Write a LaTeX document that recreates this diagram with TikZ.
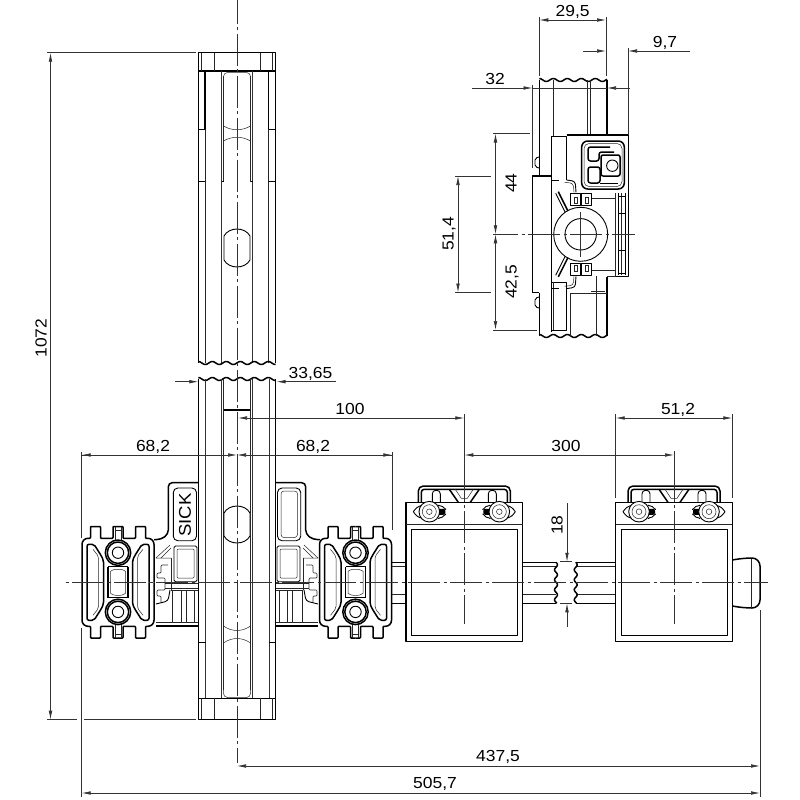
\documentclass[tikz,border=0pt]{standalone}
\usepackage{fontspec}
\setmainfont[FakeStretch=1.09]{Liberation Sans}
\usetikzlibrary{arrows.meta}

\newcommand{\wavyh}[3]{\draw[heavy,domain=#1:#2,samples=70] plot (\x,{#3+1.5*sin(25.7*(\x-#1-3.5))});}
\newcommand{\wavyv}[3]{\draw[heavy,domain=#1:#2,samples=40] plot ({#3+1.5*sin(36*(\x-#1))},\x);}

\tikzset{
  heavy/.style={line width=1.5pt,line join=round,black},
  medium/.style={line width=.9pt,line join=round,black},
  fine/.style={line width=.5pt,black!85},
  dimline/.style={line width=.7pt,black!80},
  dimarrow/.style={dimline,-{Latex[length=9pt,width=3.6pt]}},
  dimboth/.style={dimline,{Latex[length=9pt,width=3.6pt]}-{Latex[length=9pt,width=3.6pt]}},
  ctrline/.style={line width=.7pt,black!80,dash pattern=on 32pt off 3.5pt on 3pt off 3.5pt},
  dimtext/.style={inner sep=0pt,text height=11pt,text depth=0pt,text=black,font=\fontsize{16}{18}\selectfont},
  pics/clampunit/.style={code={
    \foreach \sx/\sy in {1/1,-1/1,1/-1,-1/-1} {
      \begin{scope}[xscale=\sx,yscale=\sy]
        \draw[heavy,rounded corners=.8pt] (0,-55.8) -- (5,-55.8) -- (5,-44) -- (17.5,-44) -- (17.5,-55.8) -- (27.5,-55.8) -- (27.5,-44)
          [rounded corners=6pt] -- (36,-44) -- (36,0);
        \draw[heavy,rounded corners=2pt] (31,0) -- (31,-38) -- (24,-38) -- (17,-27) -- (14.5,-22) -- (14.5,0);
        \draw[fine,rounded corners=2pt] (19.5,0) -- (19.5,-26) -- (25,-33);
        \draw[fine] (3,-55.8) -- (3,-42);
        \draw[fine] (-3,-52) -- (3,-52);
        \draw[heavy] (10,-15.6) -- (10,0);
        \draw[medium] (0,-15.6) -- (10,-15.6);
        \draw[fine] (7.5,0) -- (7.5,-11) .. controls (4,-13) .. (0,-13);
      \end{scope}
    }
    \foreach \sy in {-1,1} {
      \draw[heavy,fill=white] (0,\sy*29.6) circle (12.7);
      \draw[heavy] (0,\sy*29.6) circle (10.7);
      \draw[medium] (0,\sy*29.6) circle (5.7);
    }
  }},
  pics/holderunit/.style={code={
    \draw[heavy] (-58.3,-80) rectangle (58.3,59.4);
    \draw[fine] (-58.3,-58.3) -- (58.3,-58.3);
    \draw[medium] (-53,-53) rectangle (53.4,53.4);
    \draw[heavy,rounded corners=5pt] (-46,-80) -- (-46,-96.3) -- (46,-96.3) -- (46,-80);
    \draw[heavy,rounded corners=3pt] (-43,-80) -- (-43,-93) -- (43,-93) -- (43,-80);
    \draw[heavy] (-15,-93) -- (-6,-80) (15,-93) -- (6,-80);
    \draw[fine] (-9,-93) -- (-3,-84) -- (3,-84) -- (9,-93);
    \foreach \s in {-1,1} {
      \draw[medium,rounded corners=3.5pt] (\s*32,-80) -- (\s*32,-92) -- (\s*24,-92) -- (\s*24,-80);
      \fill[black,rounded corners=2pt] (\s*19,-73.5) rectangle (\s*30,-67.5);
      \draw[medium,rounded corners=5pt] (\s*51,-70.6) -- (\s*46,-77) -- (\s*42,-77) (\s*51,-70.6) -- (\s*46,-64) -- (\s*42,-64);
      \draw[medium,rounded corners=5pt] (\s*19,-73.6) -- (\s*21,-77) -- (\s*25,-77) (\s*19,-67.6) -- (\s*21,-64) -- (\s*25,-64);
      \draw[medium,fill=white] (\s*35,-70.6) circle (10.3);
      \draw[fine] (\s*35,-70.6) circle (7);
      \draw[fine] (\s*35,-70.6) circle (2.8);
    }
  }}
}

\begin{document}
\begin{tikzpicture}[x=1pt,y=-1pt]
  \useasboundingbox (0,0) rectangle (800,800);

  % main profile, upper piece
  \draw[heavy] (198.3,363) -- (198.3,52.7) -- (275.7,52.7) -- (275.7,363);
  \draw[heavy] (198.3,71) -- (275.7,71);
  \foreach \x in {201.7,214,260,272} \draw[fine] (\x,52.7) -- (\x,71);
  \foreach \x in {205,268.7} {
    \draw[heavy] (\x,71) -- (\x,129);
    \draw[fine] (\x,129) -- (\x,363);
  }
  \draw[medium] (198.3,129) -- (205,129) (268.7,129) -- (275.7,129);
  \draw[medium] (198.3,181.7) -- (205,181.7) (268.7,181.7) -- (275.7,181.7);
  \foreach \x in {221.7,252.7} \draw[dimline] (\x,71) -- (\x,363);
  \foreach \x in {223.5,250.5} \draw[fine] (\x,76) -- (\x,181.7);
  \draw[medium] (221.7,181.7) -- (223.5,181.7) (250.5,181.7) -- (252.7,181.7);
  \draw[fine,rounded corners=4pt] (223.5,90) -- (223.5,72.5) -- (250.5,72.5) -- (250.5,90);
  \draw[fine] (223.5,126) .. controls (232,131) and (242,131) .. (250.5,126);
  \draw[fine] (223.5,141) .. controls (232,136) and (242,136) .. (250.5,141);
  \draw[medium,fill=white] (224,236) .. controls (229,226.7) and (245,226.7) .. (250,236) -- (250,260) .. controls (245,269.3) and (229,269.3) .. (224,260) -- cycle;
  \wavyh{198.3}{275.7}{363}
  \wavyh{198.3}{275.7}{379}

  % main profile, lower piece
  \draw[heavy] (198.3,379) -- (198.3,719.3) -- (275.7,719.3) -- (275.7,379);
  \draw[medium] (198.3,698) -- (275.7,698);
  \foreach \x in {201.7,214,260,272} \draw[fine] (\x,698) -- (\x,719.3);
  \foreach \x in {205.5,269} \draw[dimline] (\x,379) -- (\x,698);
  \draw[medium] (198.3,642.7) -- (205.5,642.7) (269,642.7) -- (275.7,642.7);
  \foreach \x in {221.7,252.7} \draw[dimline] (\x,379) -- (\x,698);
  \foreach \x in {223.5,250.5} \draw[fine] (\x,379) -- (\x,690);
  \draw[heavy] (224,410) -- (250,410);
  \draw[medium,fill=white] (224,513) .. controls (229,503.7) and (245,503.7) .. (250,513) -- (250,536) .. controls (245,545.3) and (229,545.3) .. (224,536) -- cycle;
  \draw[fine] (223.5,626) .. controls (232,632) and (242,632) .. (250.5,626);
  \draw[fine] (223.5,643) .. controls (232,637) and (242,637) .. (250.5,643);
  \draw[fine,rounded corners=4pt] (223.5,680) -- (223.5,697.5) -- (250.5,697.5) -- (250.5,680);

  % both arms of the mount
  \foreach \s in {-1,1} {
    \begin{scope}[shift={(237,0)},xscale=\s]
      \draw[heavy,rounded corners=4pt] (39,482.7) -- (68.7,482.7) -- (68.7,534) -- (76,539.5) -- (83,539.5);
      \draw[medium,rounded corners=4.5pt] (40.5,488) rectangle (63.7,540.7);
      \draw[medium,rounded corners=1.5pt] (40,546) rectangle (63,581.7);
      \draw[fine,rounded corners=1pt] (43,549) rectangle (60,578);
      \draw[fine] (81,558) -- (67,545) (76,558) -- (66,548) (66,558) -- (81,558);
      \draw[dimline,rounded corners=1pt] (69,565) -- (76,565) -- (76,573) -- (80,573) -- (80,578) -- (72,578) -- (72,590) -- (80,590) -- (80,596) -- (76,596) -- (76,602);
      \draw[fine] (66,558) -- (66,590);
      \draw[medium,rounded corners=3pt] (81,604) -- (69,601) -- (67,590);
      \draw[fine] (39,583.3) -- (72,583.3) (39,588.3) -- (72,588.3);
      \draw[fine] (39,590) -- (66,590);
      \draw[heavy] (39,626) -- (81,626);
      \draw[fine] (39,622.7) -- (81,622.7);
      \foreach \x in {42.7,50.3,55.3,65} \draw[fine] (\x,590) -- (\x,622.7);
    \end{scope}
  }
  \node[rotate=90,inner sep=0pt,font=\fontsize{17}{18}\selectfont] (logotext) at (185,515) {SICK};
  \draw[fine,rounded corners=3pt] (281,491) rectangle (297.5,537.5);
  \pic at (118,582.3) {clampunit};
  \pic at (355.5,582.3) {clampunit};

  % rod and holders
  \draw[heavy] (392.3,562.3) -- (406,562.3) (392.3,603.3) -- (406,603.3);
  \draw[fine] (392.3,566) -- (406,566) (392.3,594.3) -- (406,594.3);
  \draw[heavy] (522.7,562.3) -- (556,562.3) (522.7,603.3) -- (556,603.3);
  \draw[heavy] (575.7,562.3) -- (615.7,562.3) (575.7,603.3) -- (615.7,603.3);
  \draw[fine] (522.7,566) -- (556,566) (522.7,594.3) -- (556,594.3);
  \draw[fine] (575.7,566) -- (615.7,566) (575.7,594.3) -- (615.7,594.3);
  \wavyv{562.3}{603.3}{556}
  \wavyv{562.3}{603.3}{575.7}
  \pic at (464.3,582.3) {holderunit};
  \pic at (674,582.3) {holderunit};
  \draw[heavy,rounded corners=8pt] (732.3,560) -- (744,558) -- (760,558) -- (760,608) -- (744,608) -- (732.3,606);
  \draw[fine] (751,558.5) -- (751,607.5);

  % side view, top right
  \wavyh{539.3}{607}{80}
  \wavyh{539.3}{607}{336}
  \draw[heavy] (539.3,80) -- (539.3,176);
  \draw[heavy] (607,80) -- (607,135);
  \draw[heavy] (539.3,292.7) -- (539.3,336);
  \draw[heavy] (607,277) -- (607,336);
  \draw[fine] (553.3,80) -- (553.3,136) (587.7,80) -- (587.7,135) (590,80) -- (590,135);
  \draw[heavy] (532.3,292.7) -- (532.3,176) -- (551,176);
  \draw[heavy] (532.3,292.7) -- (539.3,292.7);
  \draw[medium,rounded corners=2pt] (539.3,157) -- (535,158) -- (535,167) -- (539.3,168);
  \draw[medium,rounded corners=2pt] (539.3,297) -- (535,298) -- (535,307) -- (539.3,308);
  \draw[medium] (551,137) -- (551,332);
  \draw[medium] (551,136.5) -- (566.7,136.5) -- (566.7,180);
  \draw[medium] (551,282) -- (566.7,282) -- (566.7,330) -- (551,330);
  \draw[fine] (553.5,282) -- (553.5,330) (570,293) -- (570,336) (596.7,276) -- (596.7,336);
  \draw[fine] (570,293) -- (607,293) (591,291) -- (605,291);
  \draw[heavy] (566.7,135) -- (628.3,135) -- (628.3,276.7) -- (616,276.7);
  \draw[fine] (616,276.7) -- (607,276.7) (615,193) -- (615,276.7) (591,198) -- (615,198) (591,270) -- (615,270);
  \draw[medium] (618,193) -- (618,275) (625.5,193) -- (625.5,275);
  \draw[fine] (621.5,193) -- (621.5,275);
  \foreach \y in {196.7,213,250,273} \draw[medium] (618,\y) -- (625.5,\y);
  \draw[heavy,rounded corners=6pt] (581.7,141) rectangle (624.3,189);
  \draw[fine,rounded corners=5pt] (584,143.5) rectangle (622,186.5);
  \draw[heavy,rounded corners=2.5pt] (610,147) -- (588,147) -- (588,161) -- (599,161) -- (599,152) -- (614,152);
  \draw[heavy,rounded corners=2.5pt] (588,167) rectangle (600,183);
  \draw[heavy,rounded corners=2pt] (601,155) -- (620,155) -- (620,176) -- (601,176) -- cycle;
  \draw[medium,fill=white] (612.3,165.7) circle (5.7);
  \draw[medium] (600,183) -- (618,183);
  \foreach \sy in {-1,1} {
    \begin{scope}[shift={(580.7,234.3)},yscale=\sy]
      \draw[medium] (-10.7,-41) rectangle (-0.7,-29.3);
      \draw[medium] (1,-41) rectangle (11,-29.3);
      \draw[fine] (-6,-37) rectangle (-3,-31) (5,-37) rectangle (8,-31);
      \draw[heavy] (-22.4,-42.6) -- (-12.4,-22.6);
      \draw[medium] (-25,-41) -- (-15,-21);
      \draw[medium,rounded corners=3pt] (-14,-54.3) -- (-5.5,-53) -- (-4.7,-42);
      \draw[fine,rounded corners=3pt] (-16,-52) -- (-7.5,-51) -- (-6.7,-42);
      \draw[heavy] (-29.7,-54) -- (-22,-54);
    \end{scope}
  }
  \draw[medium,fill=white] (580.7,234.3) circle (27);
  \draw[medium] (580.7,234.3) circle (15.7);

  % centre lines
  \draw[ctrline] (237,-8.3) -- (237,763);
  \draw[ctrline,dash phase=34] (64,582.3) -- (768,582.3);
  \draw[ctrline,dash phase=33] (464.3,502) -- (464.3,624);
  \draw[ctrline,dash phase=33] (674,502) -- (674,624);
  \draw[ctrline,dash phase=6.7] (493,234.3) -- (635,234.3);
  \draw[dimline] (580.7,212) -- (580.7,257);

  % dimensions of the front view
  \draw[dimline] (47,52.7) -- (196,52.7) (47,719.7) -- (77,719.7) (84,719.7) -- (196,719.7);
  \draw[dimboth] (50.5,52.7) -- (50.5,719.7);
  \node[dimtext,rotate=90] (len1072) at (41,338) {1072};
  \draw[dimline] (81.7,452) -- (81.7,538) (81.7,628) -- (81.7,797);
  \draw[dimline] (392.3,452) -- (392.3,530);
  \draw[dimarrow] (81.7,455) -- (237,455);
  \draw[dimarrow] (392.3,455) -- (237,455);
  \draw[dimarrow,{Latex[length=9pt,width=3.6pt]}-] (81.7,455) -- (90,455);
  \draw[dimarrow,{Latex[length=9pt,width=3.6pt]}-] (392.3,455) -- (385,455);
  \node[dimtext] (armleft) at (153,446) {68,2};
  \node[dimtext] (armright) at (313,446) {68,2};
  \draw[dimarrow] (175,381.7) -- (198.3,381.7);
  \draw[dimarrow] (336,381.7) -- (276.5,381.7);
  \node[dimtext] (profw) at (310.5,373) {33,65};
  \draw[dimline] (464.3,414) -- (464.3,502) (674,451) -- (674,502);
  \draw[dimboth] (238,418) -- (464.3,418);
  \node[dimtext] (dist100) at (350,409) {100};
  \draw[dimboth] (464.3,455) -- (674,455);
  \node[dimtext] (dist300) at (566,446) {300};
  \draw[dimline] (615.7,414) -- (615.7,498) (732.3,414) -- (732.3,498);
  \draw[dimboth] (615.7,418) -- (732.3,418);
  \node[dimtext] (holdw) at (678,409) {51,2};
  \draw[dimline] (560,561.8) -- (572,561.8) (560,603.3) -- (572,603.3);
  \draw[dimarrow] (567,503.3) -- (567,561.8);
  \draw[dimarrow] (567,626.7) -- (567,603.3);
  \node[dimtext,rotate=90] (rod18) at (557,525) {18};
  \draw[dimline] (760,610) -- (760,797);
  \draw[dimboth] (237,766) -- (760,766);
  \node[dimtext] (len437) at (498,756) {437,5};
  \draw[dimboth] (81.7,793) -- (760,793);
  \node[dimtext] (len505) at (435,783) {505,7};

  % dimensions of the side view
  \draw[dimline] (539.3,17) -- (539.3,76) (606,17) -- (606,76);
  \draw[dimboth] (539.3,20) -- (606,20);
  \node[dimtext] (side295) at (572.7,11) {29,5};
  \draw[dimarrow] (583,51) -- (606,51);
  \draw[dimarrow] (690,51) -- (628,51);
  \draw[dimline] (628,48) -- (628,134);
  \node[dimtext] (side97) at (665,42) {9,7};
  \draw[dimarrow] (472,88) -- (532.5,88);
  \draw[dimline] (532.5,88) -- (607,88);
  \draw[dimarrow] (630,88) -- (607,88);
  \draw[dimline] (532.7,85) -- (532.7,168);
  \node[dimtext] (side32) at (495,79) {32};
  \draw[dimline] (493,133.5) -- (530,133.5) (493,330) -- (537,330);
  \draw[dimboth] (495.5,133.5) -- (495.5,234.3);
  \draw[dimboth] (495.5,234.3) -- (495.5,330);
  \node[dimtext,rotate=90] (side44) at (511,183) {44};
  \node[dimtext,rotate=90] (side425) at (511,282) {42,5};
  \draw[dimline] (455,176) -- (491,176) (455,292.5) -- (491,292.5);
  \draw[dimboth] (458,176) -- (458,292.5);
  \node[dimtext,rotate=90] (side514) at (448,234) {51,4};
\end{tikzpicture}
\end{document}
